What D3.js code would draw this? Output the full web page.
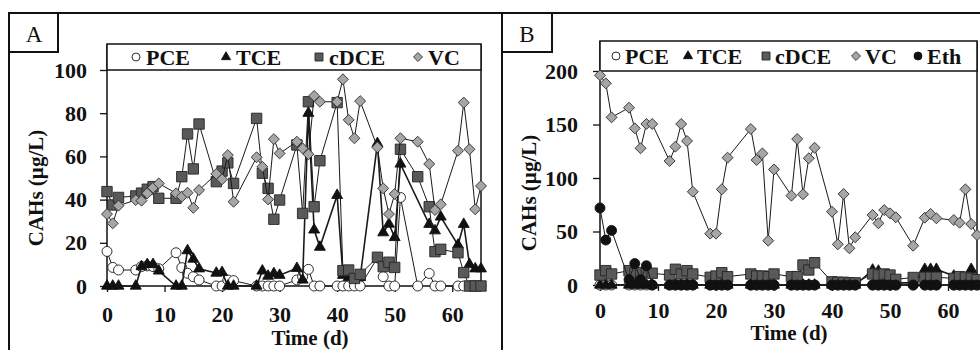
<!DOCTYPE html>
<html>
<head>
<meta charset="utf-8">
<script src="https://cdn.jsdelivr.net/npm/d3@7"></script>
<style>
  body { margin: 0; background: #fff; }
  svg { display: block; }
  text { font-family: "Liberation Serif", "Times New Roman", serif; fill: #111; }
</style>
</head>
<body>
<div id="chart"></div>
<script>
// sampling days (same for both reactors)
const days = [0,1,2, 5,6,7,8,9, 12,13,14,15,16, 19,20,21,22, 26,27,28,29,30, 33,34,35,36,37, 40,41,42,43,44, 47,48,49,50,51, 54, 56,57,58, 61,62,63,64,65];
const xTicks = [0, 10, 20, 30, 40, 50, 60];

// panel A (µg/L)
const aPCE  = [16,8.6,7.4, 7.4,9,9.3,9,8, 15.4,8.5,5.9,4.3,2.8, 0,0,2.8,2.5, 0,0,0,0,0, 2.8,4.3,7.7,0,0, 0,0,0,0,0, 13,4.3,0,0,41, 0, 5.8,0,0, 0,0,0,0,0];
const aTCE  = [0,0,0, 0,9,10,10,7, 0,0,16.4,12.5,8, 6,6.3,0,0, 0,7,4.6,5.8,5, 8.2,2.8,80,26,18, 42,5,4,3,4, 66,24.7,28.7,22.5,56.5, null, 28.6,25.6,32, 19,28.6,10,8,8];
const aCDCE = [43.7,37.5,41, 41.7,43,44.8,46,40.6, 40.6,50.6,70.4,54.2,75, 48.3,53.2,57,47.5, 77.6,52.2,45.2,30.9,39.8, 65.3,33.6,85.3,36.7,58, 84.9,7.1,7.4,3.5,5.4, 13.3,9,11,8.6,63.3, 50.6, 36.7,15.9,17, 15.4,6.2,0,0,0];
const aVC   = [33.3,29,37.2, 39.8,39.5,42.9,45.5,47.5, 42.9,41.4,43.2,36.2,44.4, 51.9,49.4,60.6,39, 59.6,55.2,40.1,68,61.4, 66.8,63.7,61,88,85.3, 85.3,95.7,76.9,68.4,85.6, 64.2,45.2,33.3,42.6,68.4, 66.8, 56.5,35.2,37.8, 62.6,84.9,63.3,35.5,46.3];
const aYTicks = [0, 20, 40, 60, 80, 100];

// panel B (µg/L)
const bPCE  = [0,0,0, 0,0,0,0,0, 0,0,0,0,0, 0,0,0,0, 0,0,0,0,0, 0,0,0,0,0, 0,0,0,0,0, 0,0,0,0,0, 0, 0,0,0, 0,0,0,0,0];
const bTCE  = [0,0,0, 0,0,0,0,0, 0,0,0,0,0, 0,0,0,0, 0,0,0,0,0, 0,0,0,0,0, 0,0,0,0,0, 14,13,2,2,2, 2, 14.7,14.7,14.7, 8.4,2,3,14.7,3];
const bCDCE = [9.3,13.4,10.3, 13.4,11,11.5,12,11, 9.3,14.7,10.3,13.4,10.3, 7.2,8.4,11.5,7.8, 10.3,8.4,8.4,7.8,10.3, 7.8,7.8,18.7,14,20.8, 3,2.5,2.5,2,2, 10.3,9.3,10.3,9.3,5.3, 7, 7.2,7.2,7.2, 6.2,7.8,7.2,6.2,5];
const bVC   = [196,188.5,156.7, 165.7,146.4,127.8,150.5,150.5, 115.9,129.3,150.5,134.6,87.2, 48,48,89.4,119, 145.8,116.8,123,41.4,108, 83.5,136.4,84.8,118.4,128.3, 68.5,38,85,34.3,44.6, 65.4,57.7,70,67,63.3, 36.7, 62.9,66.4,62.3, 60.7,58.2,89.4,57,46.7];
const bEth  = [72,42,51, 5,20,5,18,0, 0,0,0,0,0, 0,0,0,0, 0,0,0,0,0, 0,0,0,0,0, 0,0,0,0,0, 0,0,0,0,0, 0, 0,0,0, 0,0,0,0,0];
const bYTicks = [0, 50, 100, 150, 200];

const markers = {
  PCE:  { type: d3.symbolCircle,   size: 78,  leg: 50, fill: '#fff',    stroke: '#1a1a1a' },
  TCE:  { type: d3.symbolTriangle, size: 52,  leg: 36, fill: '#111',    stroke: '#111' },
  cDCE: { type: d3.symbolSquare,   size: 108, leg: 64, fill: '#595959', stroke: '#262626' },
  VC:   { type: d3.symbolSquare,   size: 60,  leg: 40, fill: '#a6a6a6', stroke: '#333', rot: 45 },
  Eth:  { type: d3.symbolCircle,   size: 78,  leg: 50, fill: '#111',    stroke: '#111' }
};

const svg = d3.select('#chart').append('svg')
  .attr('width', 980)
  .attr('height', 350);

// outer frames
const frame = svg.append('g').attr('fill', 'none').attr('stroke', '#111').attr('stroke-width', 2);
frame.append('path').attr('d', 'M9,350V13H980M502,13V350');
frame.append('rect').attr('x', 9).attr('y', 13).attr('width', 49).attr('height', 39);
frame.append('rect').attr('x', 502).attr('y', 13).attr('width', 50).attr('height', 39);
svg.append('text').attr('x', 34).attr('y', 42).attr('text-anchor', 'middle').style('font-size', '23px').text('A');
svg.append('text').attr('x', 527).attr('y', 42).attr('text-anchor', 'middle').style('font-size', '23px').text('B');

function styleAxis(g) {
  g.select('.domain').remove();
  g.selectAll('.tick line').attr('stroke', '#111').attr('stroke-width', 1.3);
  g.selectAll('.tick text').style('font-size', '22px').style('font-weight', 'bold').attr('fill', '#111');
}

function drawPanel(p) {
  const x = d3.scaleLinear().domain([0, 65]).range([p.left, p.right]);
  const y = d3.scaleLinear().domain([0, p.yTicks[p.yTicks.length - 1]]).range([p.bottom, p.top]);
  const g = svg.append('g');

  g.append('g').attr('transform', `translate(${p.left},0)`)
    .call(d3.axisLeft(y).tickValues(p.yTicks).tickSize(7).tickPadding(p.yPad))
    .call(styleAxis);
  g.append('g').attr('transform', `translate(0,${p.bottom})`)
    .call(d3.axisBottom(x).tickValues(xTicks).tickSize(6).tickPadding(p.xPad))
    .call(styleAxis);

  // plot border (top edge is the legend box)
  g.append('path')
    .attr('d', `M${p.left},${p.legTop}V${p.bottom}H${p.right}V${p.legTop}`)
    .attr('fill', 'none').attr('stroke', '#111').attr('stroke-width', 1.5);
  g.append('rect')
    .attr('x', p.left).attr('y', p.legTop)
    .attr('width', p.right - p.left).attr('height', p.top - p.legTop)
    .attr('fill', '#fff').attr('stroke', '#111').attr('stroke-width', 1.5);

  // axis titles
  g.append('text').attr('x', p.xTitleX).attr('y', p.xTitleY).attr('text-anchor', 'middle')
    .style('font-size', '21px').style('font-weight', 'bold').text('Time (d)');
  g.append('text').attr('transform', `translate(${p.yTitleX},${p.yTitleY}) rotate(-90)`)
    .attr('text-anchor', 'middle')
    .style('font-size', '21px').style('font-weight', 'bold').text('CAHs (µg/L)');

  // series: line then markers
  p.series.forEach(s => {
    const m = markers[s.name];
    const pts = days.map((d, i) => ({ d: d, v: s.values[i] })).filter(o => o.v !== null);
    g.append('path').datum(pts)
      .attr('d', d3.line().x(o => x(o.d)).y(o => y(o.v)))
      .attr('fill', 'none').attr('stroke', '#1a1a1a')
      .attr('stroke-width', s.name === 'TCE' ? 1.6 : 1);
    g.append('g').selectAll('path').data(pts).join('path')
      .attr('transform', o => `translate(${x(o.d)},${y(o.v)})` + (m.rot ? ` rotate(${m.rot})` : ''))
      .attr('d', d3.symbol(m.type, m.size)())
      .attr('fill', m.fill).attr('stroke', m.stroke).attr('stroke-width', 0.9);
  });

  // legend
  const ly = (p.legTop + p.top) / 2;
  p.series.forEach((s, i) => {
    const m = markers[s.name];
    const sx = p.legX[i];
    g.append('path')
      .attr('transform', `translate(${sx},${ly})` + (m.rot ? ` rotate(${m.rot})` : ''))
      .attr('d', d3.symbol(m.type, m.leg)())
      .attr('fill', m.fill).attr('stroke', m.stroke).attr('stroke-width', 0.9);
    g.append('text').attr('x', sx + p.legGap).attr('y', ly + 7.5)
      .style('font-size', '22px').style('font-weight', 'bold').text(s.name);
  });
}

drawPanel({
  left: 107, right: 481, top: 70, bottom: 286, legTop: 44,
  yTicks: aYTicks, yPad: 13, xPad: 14,
  xTitleX: 310, xTitleY: 345, yTitleX: 43, yTitleY: 188,
  legX: [136, 226, 319, 418], legGap: 10,
  series: [
    { name: 'PCE', values: aPCE },
    { name: 'TCE', values: aTCE },
    { name: 'cDCE', values: aCDCE },
    { name: 'VC', values: aVC }
  ]
});

drawPanel({
  left: 600, right: 977, top: 71, bottom: 285, legTop: 41,
  yTicks: bYTicks, yPad: 15, xPad: 11,
  xTitleX: 789, xTitleY: 340, yTitleX: 536, yTitleY: 193,
  legX: [616, 688, 766, 856, 918], legGap: 9,
  series: [
    { name: 'PCE', values: bPCE },
    { name: 'TCE', values: bTCE },
    { name: 'cDCE', values: bCDCE },
    { name: 'VC', values: bVC },
    { name: 'Eth', values: bEth }
  ]
});
</script>
</body>
</html>
